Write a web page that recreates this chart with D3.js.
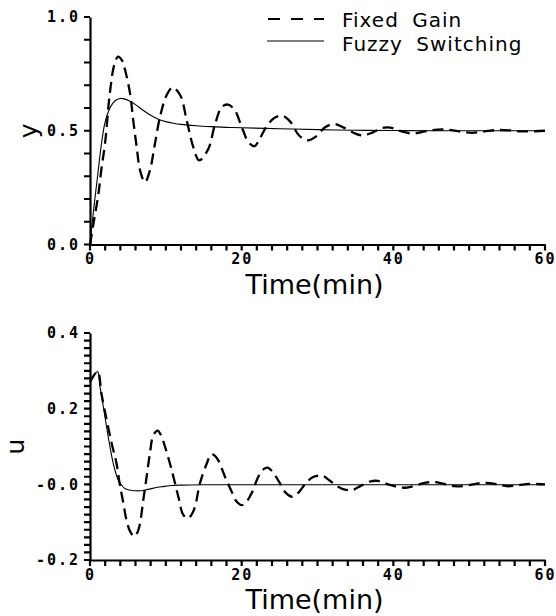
<!DOCTYPE html>
<html>
<head>
<meta charset="utf-8">
<script src="https://cdn.jsdelivr.net/npm/d3@7"></script>
<style>
  body { margin: 0; background: #fff; }
  .tick text { font-family: "DejaVu Sans Mono", monospace; font-weight: bold; font-size: 15px; letter-spacing: 2px; fill: #000; }
  .domain { stroke: #000; stroke-width: 2.2; }
  .lbl { font-family: "DejaVu Sans", sans-serif; fill: #000; }
</style>
</head>
<body>
<div id="chart"></div>
<script>
// time axis
var timeLabels = ["0", "20", "40", "60"];
var yLabels = ["0.0", "0.5", "1.0"];
var uLabels = ["-0.2", "-0.0", "0.2", "0.4"];
var seriesNames = ["Fixed Gain", "Fuzzy Switching"];

// [time (min), y]
var fixedY = [[0,0],[0.5,0.1],[1.1,0.22],[1.5,0.33],[2,0.45],[2.6,0.66],[3.2,0.79],[3.7,0.826],[4.2,0.81],[4.6,0.77],
  [5.3,0.66],[5.7,0.546],[6.15,0.43],[6.6,0.326],[7.25,0.274],[7.9,0.326],[8.57,0.444],[9.23,0.561],[10.1,0.656],
  [10.9,0.69],[11.9,0.656],[12.75,0.546],[13.6,0.43],[14.4,0.37],[15.6,0.42],[16.5,0.53],[17.4,0.605],[18.2,0.615],
  [19.1,0.59],[20,0.517],[20.9,0.45],[21.7,0.432],[22.4,0.466],[23.3,0.52],[24.4,0.558],[25.4,0.566],[26.4,0.54],
  [27.6,0.478],[28.7,0.458],[29.8,0.475],[31,0.515],[32.2,0.53],[33.4,0.515],[34.8,0.49],[36,0.479],[37.3,0.493],
  [38.6,0.513],[39.6,0.514],[41,0.498],[42.5,0.488],[44.2,0.497],[45.8,0.505],[47.2,0.505],[48.8,0.496],[50.4,0.491],
  [52,0.497],[53.6,0.503],[55.2,0.502],[57,0.497],[60,0.5]];

var fuzzyY = [[0,0],[0.5,0.16],[1,0.3],[1.5,0.44],[2,0.54],[2.5,0.59],[3,0.62],[3.5,0.636],[4,0.642],[4.5,0.64],
  [5,0.634],[6,0.615],[7,0.59],[8,0.568],[9,0.551],[10,0.54],[11,0.533],[12,0.528],[14,0.522],[16,0.518],[18,0.515],
  [20,0.513],[25,0.509],[30,0.505],[35,0.502],[40,0.501],[45,0.5],[60,0.5]];

// [time (min), u]
var fixedU = [[0,0.27],[1,0.298],[1.54,0.236],[2.2,0.17],[2.86,0.108],[3.5,0.055],[3.9,0.003],[4.4,-0.05],[4.8,-0.094],
  [5.3,-0.125],[5.85,-0.138],[6.3,-0.125],[6.6,-0.103],[7.03,-0.041],[7.47,0.02],[7.9,0.082],[8.35,0.13],[8.92,0.142],
  [9.4,0.128],[9.9,0.099],[10.77,0.038],[11.65,-0.033],[12.3,-0.081],[12.9,-0.09],[13.4,-0.08],[13.85,-0.059],
  [14.5,0.003],[15.4,0.055],[15.96,0.079],[16.4,0.077],[16.9,0.064],[17.8,0.02],[18.7,-0.02],[19.3,-0.045],[20,-0.055],
  [20.6,-0.047],[21.3,-0.024],[22.2,0.02],[22.9,0.04],[23.4,0.044],[24,0.035],[24.9,0.008],[25.8,-0.022],[26.7,-0.033],
  [27.5,-0.022],[28.5,0.004],[29.5,0.02],[30.6,0.023],[31.6,0.01],[32.6,-0.005],[33.6,-0.014],[34.6,-0.015],
  [35.7,-0.004],[37,0.008],[38,0.009],[39.3,0],[40.5,-0.007],[41.6,-0.009],[42.8,-0.004],[44,0.003],[45.2,0.006],
  [46.5,0.002],[48,-0.005],[49.5,-0.004],[51,0.002],[52.3,0.004],[53.7,0],[55,-0.005],[56.5,-0.002],[58,0.001],[60,0]];

var fuzzyU = [[0,0.27],[1,0.298],[1.3,0.26],[1.76,0.205],[2.4,0.126],[3.07,0.055],[3.73,0.011],[4.2,-0.003],[4.6,-0.011],
  [5.2,-0.015],[5.9,-0.017],[6.6,-0.017],[7.25,-0.015],[8,-0.012],[8.6,-0.009],[9.6,-0.006],[10.8,-0.003],[12,-0.002],
  [15,-0.001],[20,-0.001],[60,-0.001]];

function init() {
    var w = 556, h = 616;
    var left = 90, right = 545;
    var tickLen = 6;

    var svg = d3.select("#chart").append("svg")
        .attr("width", w)
        .attr("height", h);

    var xScale = d3.scaleLinear().domain([0, 60]).range([left, right]);
    var xTicks = d3.range(0, 60.001, 2);

    function labelFor(values, labels) {
        return function(d) {
            var i = values.findIndex(function(v) { return Math.abs(v - d) < 1e-6; });
            return i < 0 ? "" : labels[i];
        };
    }

    function panel(yDomain, yRange, yStep, yLabelVals, yLabelText, name, fixed, fuzzy) {
        var yScale = d3.scaleLinear().domain(yDomain).range(yRange);
        var yTicks = d3.range(yDomain[0], yDomain[1] + 1e-6, yStep);

        var xAxis = d3.axisBottom(xScale)
            .tickValues(xTicks)
            .tickSizeInner(0).tickSizeOuter(0).tickPadding(tickLen + 3)
            .tickFormat(labelFor([0, 20, 40, 60], timeLabels));

        var yAxis = d3.axisLeft(yScale)
            .tickValues(yTicks)
            .tickSizeInner(0).tickSizeOuter(0).tickPadding(tickLen + 4)
            .tickFormat(labelFor(yLabelVals, yLabelText));

        svg.append("g")
            .attr("transform", "translate(0," + yRange[0] + ")")
            .call(xAxis);

        svg.append("g")
            .attr("transform", "translate(" + left + ",0)")
            .call(yAxis);

        // tick marks as one path per panel
        var xd = xTicks.map(function(d) {
            return "M" + xScale(d) + "," + yRange[0] + "v" + tickLen;
        }).join("");
        var yd = yTicks.map(function(d) {
            return "M" + (left - tickLen) + "," + yScale(d) + "h" + tickLen;
        }).join("");
        svg.append("path")
            .attr("d", xd + yd)
            .attr("fill", "none")
            .attr("stroke", "#000")
            .attr("stroke-width", 2.2);

        var line = d3.line()
            .x(function(d) { return xScale(d[0]); })
            .y(function(d) { return yScale(d[1]); })
            .curve(d3.curveCatmullRom.alpha(0.5));

        svg.append("path")
            .datum(fuzzy)
            .attr("d", line)
            .attr("fill", "none")
            .attr("stroke", "#000")
            .attr("stroke-width", 1.1);

        svg.append("path")
            .datum(fixed)
            .attr("d", line)
            .attr("fill", "none")
            .attr("stroke", "#000")
            .attr("stroke-width", 2.3)
            .attr("stroke-dasharray", "11,6");

        svg.append("text")
            .attr("class", "lbl")
            .attr("x", (left + right) / 2 - 3)
            .attr("y", yRange[0] + 49)
            .attr("text-anchor", "middle")
            .style("font-size", "27px")
            .text("Time(min)");

        var midY = (yRange[0] + yRange[1]) / 2;
        var lx = name == "y" ? 37 : 24;
        svg.append("text")
            .attr("class", "lbl")
            .attr("transform", "translate(" + lx + "," + midY + ") rotate(-90)")
            .attr("text-anchor", "middle")
            .style("font-size", "25px")
            .text(name);
    }

    panel([0, 1], [244.5, 17], 0.1, [0, 0.5, 1], yLabels, "y", fixedY, fuzzyY);
    panel([-0.2, 0.4], [560, 333], 0.02, [-0.2, 0, 0.2, 0.4], uLabels, "u", fixedU, fuzzyU);

    // legend
    var legend = svg.append("g");
    legend.append("line")
        .attr("x1", 268).attr("x2", 324).attr("y1", 19).attr("y2", 19)
        .attr("stroke", "#000").attr("stroke-width", 2.2)
        .attr("stroke-dasharray", "12,11");
    legend.append("line")
        .attr("x1", 267).attr("x2", 324).attr("y1", 41).attr("y2", 41)
        .attr("stroke", "#000").attr("stroke-width", 1.1);
    legend.selectAll("text.leg")
        .data(seriesNames)
        .enter().append("text")
        .attr("class", "lbl leg")
        .attr("x", 342)
        .attr("y", function(d, i) { return 27 + i * 23.5; })
        .style("font-size", "20px")
        .style("letter-spacing", "1px")
        .style("word-spacing", "6px")
        .text(function(d) { return d; });
}
window.onload = init;
</script>
</body>
</html>
